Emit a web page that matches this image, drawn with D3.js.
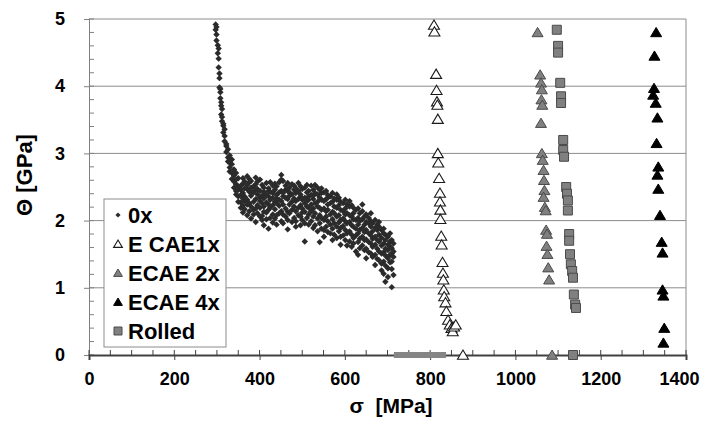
<!DOCTYPE html>
<html><head><meta charset="utf-8">
<script src="https://cdn.jsdelivr.net/npm/d3@7"></script>
<style>
body{margin:0;background:#fff}
text{font-family:"Liberation Sans",Arial,sans-serif;font-weight:bold;fill:#000}
</style>
</head><body>
<svg id="chart" width="701" height="425"></svg>
<script>
// ---------- data ----------
const xTickValues = [0, 200, 400, 600, 800, 1000, 1200, 1400];
const yTickValues = [0, 1, 2, 3, 4, 5];
const seriesNames = ["0x", "E CAE1x", "ECAE 2x", "ECAE 4x", "Rolled"];

// 0x : stress column -> list of hardening-rate readings
const data0x = [
 [297,[4.92,4.84]],[299,[4.77,4.68,4.88]],[302,[4.61,4.49]],[304,[4.41,4.28,4.56]],
 [306,[4.19,4.12,3.98]],[308,[3.91,3.96,3.82]],[310,[3.71,3.76,3.58]],[312,[3.54,3.48,3.66]],
 [315,[3.41,3.44,3.31]],[318,[3.26,3.36,3.18]],[322,[3.11,3.14,3.02]],[326,[3.06,2.94,2.88]],
 [330,[2.86,2.97,2.79,2.73]],[335,[2.71,2.84,2.62,2.91]],[340,[2.76,2.58,2.49,2.67]],
 [345,[2.54,2.71,2.44,2.39,2.61]],[350,[2.51,2.63,2.36,2.46,2.28]],
 [356,[2.52,2.38,2.27,2.19,2.46]],[361,[2.63,2.41,2.33,2.22,2.55,2.12]],
 [365,[2.48,2.36,2.29,2.17,2.58]],[371,[2.66,2.47,2.31,2.24,2.08,2.53]],
 [376,[2.57,2.43,2.26,2.14,2.62]],[380,[2.59,2.49,2.37,2.21,2.03,2.44]],
 [386,[2.51,2.42,2.28,2.16,2.09]],[391,[2.64,2.46,2.32,2.18,1.98,2.54]],
 [395,[2.47,2.39,2.23,2.11,2.58]],[401,[2.61,2.44,2.34,2.19,2.06,2.29]],
 [406,[2.53,2.37,2.26,2.07,2.01]],[410,[2.49,2.33,2.21,2.43,2.13,1.93]],
 [416,[2.56,2.38,2.27,2.12,2.02]],[421,[2.48,2.36,2.24,2.16,2.44,1.88]],
 [425,[2.43,2.31,2.19,2.04,2.57]],[431,[2.52,2.34,2.23,2.09,1.97,2.41]],
 [436,[2.46,2.28,2.17,2.03,2.55]],[440,[2.51,2.38,2.26,2.08,1.94,2.33]],
 [446,[2.57,2.42,2.22,2.11,2.31]],[451,[2.68,2.44,2.29,2.14,1.99,2.61]],
 [455,[2.59,2.41,2.24,2.09,2.36,1.96]],[461,[2.52,2.34,2.18,2.06,2.46]],
 [466,[2.44,2.32,2.13,2.01,2.56,1.87]],[470,[2.49,2.37,2.24,2.11,2.42]],
 [476,[2.54,2.39,2.28,2.16,1.98]],[481,[2.46,2.33,2.21,2.04,2.52]],
 [485,[2.41,2.29,2.14,1.99,2.48,1.91]],[491,[2.44,2.32,2.19,2.08,2.56]],
 [496,[2.51,2.36,2.23,2.06,1.93,2.39]],[500,[2.47,2.31,2.18,2.12,2.01]],
 [506,[2.49,2.34,2.26,2.13,1.96,1.69]],[511,[2.42,2.29,2.21,2.04,2.53]],
 [515,[2.44,2.36,2.19,2.09,1.94,2.31]],[521,[2.52,2.38,2.24,2.14,1.99]],
 [526,[2.46,2.32,2.18,2.06,1.89,2.37]],[530,[2.53,2.41,2.26,2.11,1.93]],
 [536,[2.39,2.28,2.21,2.03,1.84,2.49]],[541,[2.46,2.34,2.19,2.08,1.96,1.68]],
 [545,[2.48,2.31,2.16,2.04,1.88,2.41]],[551,[2.42,2.29,2.18,2.01,1.86,1.76]],
 [556,[2.44,2.32,2.14,2.06,1.91]],[560,[2.38,2.24,2.16,1.99,1.83,2.34]],
 [566,[2.36,2.26,2.09,1.94,1.81]],[571,[2.41,2.28,2.13,2.02,1.88,1.71]],
 [575,[2.33,2.21,2.11,1.96,1.79]],[581,[2.31,2.19,2.06,1.91,1.74,2.39]],
 [586,[2.34,2.23,2.08,1.97,1.84]],[590,[2.28,2.16,2.01,1.89,1.76,1.64]],
 [596,[2.26,2.14,2.03,1.92,1.78]],[601,[2.31,2.18,1.99,1.86,1.71,2.09]],
 [605,[2.24,2.11,1.96,1.81,1.63]],[611,[2.21,2.08,1.98,1.84,1.69,2.29]],
 [616,[2.23,2.06,1.93,1.79,1.61]],[620,[2.19,2.11,1.91,1.74,1.66,2.02]],
 [626,[2.16,2.01,1.88,1.78,1.54]],[631,[2.18,2.04,1.94,1.81,1.68,1.49]],
 [635,[2.11,1.99,1.86,1.73,1.59]],[641,[2.14,2.02,1.89,1.76,1.63,2.24]],
 [646,[2.06,1.94,1.83,1.71,1.56]],[650,[2.09,1.98,1.86,1.72,1.58,1.44]],
 [656,[2.04,1.96,1.81,1.68,1.53]],[661,[1.99,1.91,1.78,1.66,1.51,2.11]],
 [665,[1.96,1.84,1.73,1.61,1.46]],[671,[2.01,1.89,1.76,1.64,1.49,1.34]],
 [676,[1.94,1.86,1.71,1.58,1.43]],[680,[1.91,1.79,1.69,1.54,1.41,1.98]],
 [686,[1.86,1.74,1.63,1.51,1.36,1.26]],[691,[1.88,1.81,1.66,1.53,1.39,1.21]],
 [695,[1.79,1.71,1.58,1.48,1.33,1.09]],[701,[1.76,1.64,1.56,1.44,1.29,1.16]],
 [706,[1.81,1.69,1.61,1.49,1.38]],[710,[1.71,1.59,1.51,1.39,1.28,1.01]],[714,[1.66,1.54,1.46,1.19]]
];

const dataE1x = [[809,4.91],[810,4.81],[814,4.18],[815,3.94],[816,3.77],[817,3.72],[818,3.51],
 [818,3.0],[819,2.86],[821,2.63],[823,2.41],[823,2.28],[824,2.16],[824,2.02],[826,1.77],
 [827,1.64],[829,1.38],[830,1.22],[831,1.12],[832,0.97],[833,0.87],[836,0.78],[838,0.65],
 [842,0.52],[846,0.45],[850,0.40],[853,0.35],[856,0.42],[860,0.45],[877,0.0]];

const dataE2x = [[1052,4.8],[1058,4.17],[1060,4.05],[1062,3.95],[1061,3.8],[1063,3.72],
 [1060,3.45],[1062,3.0],[1064,2.9],[1066,2.75],[1067,2.6],[1068,2.45],[1066,2.35],
 [1069,2.2],[1071,2.15],[1072,1.86],[1074,1.8],[1073,1.62],[1075,1.5],[1077,1.3],
 [1079,1.12],[1086,0.0]];
// ECAE 2x readings that sit on the stress axis (Θ = 0)
const dataE2xZero = [722,726,730,734,738,742,746,750,754,758,762,766,770,774,778,782,
 786,790,794,798,802,806,810,814,818,822,826,830];

const dataE4x = [[1330,4.8],[1326,4.45],[1325,3.97],[1323,3.87],[1329,3.75],[1333,3.53],
 [1331,3.15],[1335,2.8],[1333,2.68],[1335,2.47],[1339,2.08],[1343,1.68],[1345,1.52],
 [1345,0.97],[1347,0.88],[1349,0.4],[1347,0.18]];

const dataRolled = [[1097,4.84],[1100,4.6],[1100,4.5],[1105,4.05],[1107,3.85],[1107,3.75],
 [1112,3.2],[1112,3.05],[1114,2.95],[1119,2.5],[1121,2.4],[1123,2.3],[1123,2.15],
 [1126,1.8],[1126,1.7],[1128,1.5],[1130,1.35],[1133,1.25],[1135,1.15],[1137,0.9],
 [1140,0.75],[1142,0.7],[1135,0.0]];

// ---------- drawing ----------
const svg = d3.select("#chart");
const x = d3.scaleLinear().domain([0, 1400]).range([89, 686]);
const y = d3.scaleLinear().domain([0, 5]).range([355, 19]);
const FONT = '"Liberation Sans",Arial,sans-serif';

// gridlines
svg.append("g").selectAll("line").data(yTickValues.filter(v => v > 0 && v < 5)).join("line")
  .attr("x1", x(0)).attr("x2", x(1400)).attr("y1", d => y(d)).attr("y2", d => y(d))
  .attr("stroke", "#8c8c8c").attr("stroke-width", 1);

// plot border top + right
svg.append("line").attr("x1", x(0)).attr("x2", x(1400)).attr("y1", y(5)).attr("y2", y(5))
  .attr("stroke", "#8c8c8c");
svg.append("line").attr("x1", x(1400)).attr("x2", x(1400)).attr("y1", y(5)).attr("y2", y(0))
  .attr("stroke", "#8c8c8c");

// y axis
const yAxis = svg.append("g").attr("transform", `translate(${x(0)},0)`)
  .call(d3.axisLeft(y).tickValues(yTickValues).tickSize(5).tickFormat(d3.format("d")));
yAxis.select(".domain").attr("stroke", "#808080");
yAxis.selectAll(".tick line").attr("stroke", "#808080");
yAxis.selectAll("text").attr("x", -24).attr("font-size", 18)
  .style("font-family", FONT).style("font-weight", "bold");
// y minor ticks
svg.append("g").selectAll("line").data(d3.range(0, 5.01, 0.2)).join("line")
  .attr("x1", x(0)).attr("x2", x(0) + 5).attr("y1", d => y(d)).attr("y2", d => y(d))
  .attr("stroke", "#808080");

// x axis
const xAxis = svg.append("g").attr("transform", `translate(0,${y(0)})`)
  .call(d3.axisBottom(x).tickValues(xTickValues).tickSize(5).tickFormat(d3.format("d")));
xAxis.select(".domain").attr("stroke", "#404040").attr("stroke-width", 2);
xAxis.selectAll(".tick line").attr("stroke", "#404040");
xAxis.selectAll("text").attr("y", 17).attr("font-size", 18)
  .style("font-family", FONT).style("font-weight", "bold");
// keep the last label inside the picture
xAxis.selectAll(".tick").filter(d => d === 1400).select("text")
  .attr("text-anchor", "end").attr("x", 13);
svg.append("g").selectAll("line").data(d3.range(0, 1401, 50)).join("line")
  .attr("x1", d => x(d)).attr("x2", d => x(d)).attr("y1", y(0)).attr("y2", y(0) - 5)
  .attr("stroke", "#404040");

// axis titles
svg.append("text").attr("x", 391).attr("y", 413).attr("text-anchor", "middle")
  .attr("font-size", 21).attr("xml:space", "preserve").text("σ  [MPa]");
svg.append("text").attr("transform", "translate(32,175) rotate(-90)").attr("text-anchor", "middle")
  .attr("font-size", 22).text("Θ [GPa]");

// marker shapes
const diamond = s => `M0,${-s}L${s},0L0,${s}L${-s},0Z`;
const triangle = s => `M0,${-s}L${s*1.1},${s*0.85}L${-s*1.1},${s*0.85}Z`;
const square = s => `M${-s},${-s}H${s}V${s}H${-s}Z`;

const styles = [
  {path: diamond(3.2), fill: "#2b2b2b", stroke: "none", sw: 0, lpath: diamond(2.6)},
  {path: triangle(5), fill: "#ffffff", stroke: "#1a1a1a", sw: 1.1, lpath: triangle(4)},
  {path: triangle(5), fill: "#808080", stroke: "#4a4a4a", sw: 1, lpath: triangle(4)},
  {path: triangle(5), fill: "#000000", stroke: "#000", sw: 1, lpath: triangle(4)},
  {path: square(4.5), fill: "#808080", stroke: "#4a4a4a", sw: 1, lpath: square(4)}
];

// axis-bound ECAE 2x readings merge into a flat gray band
svg.append("g").selectAll("rect").data(dataE2xZero).join("rect")
  .attr("x", d => x(d) - 3).attr("y", y(0) - 3).attr("width", 6).attr("height", 6)
  .attr("fill", "#858585");

const pts0x = data0x.flatMap(([sx, vals]) => vals.map(v => [sx, v]));
const allSeries = [pts0x, dataE1x, dataE2x, dataE4x, dataRolled];

allSeries.forEach((pts, i) => {
  const st = styles[i];
  svg.append("g").selectAll("path").data(pts).join("path")
    .attr("d", st.path)
    .attr("transform", d => `translate(${x(d[0])},${y(d[1])})`)
    .attr("fill", st.fill).attr("stroke", st.stroke).attr("stroke-width", st.sw);
});

// legend
const lg = svg.append("g");
lg.append("rect").attr("x", 104).attr("y", 199).attr("width", 122).attr("height", 148)
  .attr("fill", "#fff").attr("stroke", "#8c8c8c");
seriesNames.forEach((name, i) => {
  const cy = 215 + i * 29;
  const st = styles[i];
  lg.append("path").attr("d", st.lpath).attr("transform", `translate(118,${cy})`)
    .attr("fill", st.fill).attr("stroke", st.stroke).attr("stroke-width", st.sw);
  lg.append("text").attr("x", 128).attr("y", cy + 8).attr("font-size", 22).text(name);
});
</script>
</body></html>
